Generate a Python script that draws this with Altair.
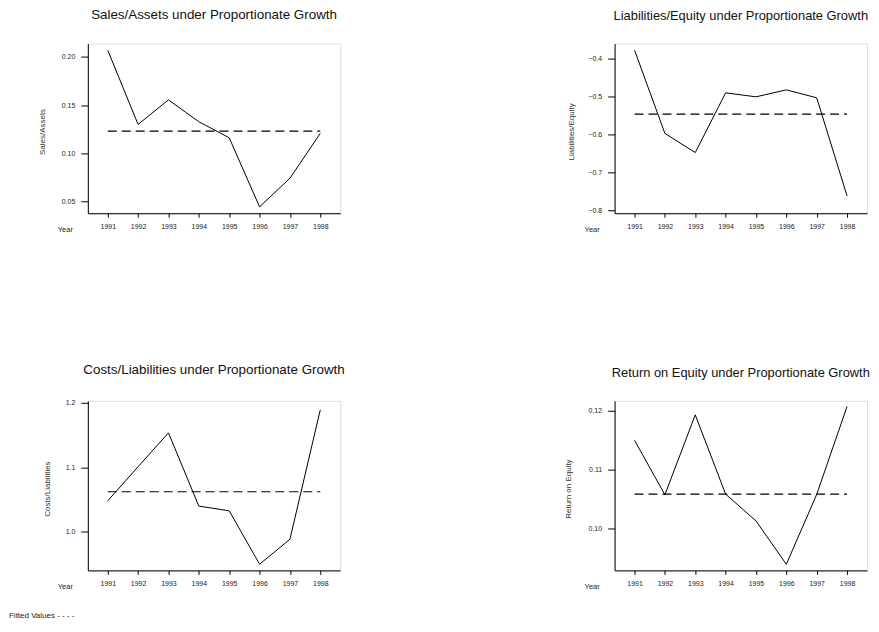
import altair as alt
import pandas as pd

years = [1991, 1992, 1993, 1994, 1995, 1996, 1997, 1998]

sales_assets = [0.2069, 0.1300, 0.1555, 0.1328, 0.1162, 0.0445, 0.0742, 0.1207]
sales_assets_fit = 0.1231

liab_equity = [-0.377, -0.5965, -0.647, -0.4895, -0.500, -0.4816, -0.5026, -0.7614]
liab_equity_fit = -0.5456

costs_liab = [1.048, 1.1008, 1.153, 1.0398, 1.0326, 0.950, 0.9886, 1.1886]
costs_liab_fit = 1.062

roe = [0.11496, 0.10572, 0.11926, 0.10583, 0.10130, 0.09394, 0.10578, 0.12068]
roe_fit = 0.10583

titles = [
    "Sales/Assets under Proportionate Growth",
    "Liabilities/Equity under Proportionate Growth",
    "Costs/Liabilities under Proportionate Growth",
    "Return on Equity under Proportionate Growth",
]
ytitles = ["Sales/Assets", "Liabilities/Equity", "Costs/Liabilities", "Return on Equity"]
legend_label = "Fitted Values - - - -"

FONT = "Liberation Sans"
W, H = 253, 170


def panel(title, ytitle, values, fitted, ydomain, yticks, yfmt, ytx,
          tsize=13.4, legend=False):
    df = pd.DataFrame({"Year": years, "v": values, "fit": [fitted] * len(years)})
    xaxis = alt.Axis(
        values=years, format="d", title="Year", grid=False, labelOverlap=False,
        tickSize=4, labelPadding=5, labelFontSize=7, labelFont=FONT,
        labelColor="#222", tickColor="black", domainColor="black",
        titleFont=FONT, titleFontSize=7.5, titleFontWeight="normal",
        titleColor="#222", titleX=-23, titleY=18, titleAlign="center",
        titleBaseline="alphabetic", titleAnchor="start",
    )
    yaxis = alt.Axis(
        values=yticks, format=yfmt, title=ytitle, grid=False, labelOverlap=False,
        tickSize=7, labelPadding=6, labelFontSize=7, labelFont=FONT,
        labelColor="#222", tickColor="black", domainColor="black",
        titleFont=FONT, titleFontSize=8, titleFontWeight="normal",
        titleColor="#333", titleX=ytx, titleY=H / 2 + 3, titleAngle=270,
        titleAlign="center", titleBaseline="middle",
    )
    xscale = alt.Scale(domain=[1990.343, 1998.657], nice=False, zero=False)
    yscale = alt.Scale(domain=ydomain, nice=False, zero=False)
    base = alt.Chart(df)
    line = base.mark_line(color="black", strokeWidth=1).encode(
        x=alt.X("Year:Q", scale=xscale, axis=xaxis),
        y=alt.Y("v:Q", scale=yscale, axis=yaxis),
    )
    fit = base.mark_line(color="black", strokeWidth=1.2, strokeDash=[9, 5]).encode(
        x=alt.X("Year:Q", scale=xscale, axis=xaxis),
        y=alt.Y("fit:Q", scale=yscale, axis=yaxis),
    )
    layers = [line, fit]
    if legend:
        leg = alt.Chart(pd.DataFrame({"t": [legend_label]})).mark_text(
            align="left", baseline="middle", font=FONT, fontSize=8, color="#222"
        ).encode(text="t:N", x=alt.value(-79), y=alt.value(216))
        layers.append(leg)
    return alt.layer(*layers).properties(
        width=W, height=H,
        title=alt.TitleParams(
            title, font=FONT, fontSize=tsize, fontWeight="normal", color="#111",
            anchor="middle", frame="group", baseline="alphabetic", offset=11,
        ),
    )


p1 = panel(titles[0], ytitles[0], sales_assets, sales_assets_fit,
           [0.0379, 0.2138], [0.05, 0.10, 0.15, 0.20], ".2f", -45)
p2 = panel(titles[1], ytitles[1], liab_equity, liab_equity_fit,
           [-0.807, -0.3597], [-0.8, -0.7, -0.6, -0.5, -0.4], ".1f", -43, tsize=12.9)
p3 = panel(titles[2], ytitles[2], costs_liab, costs_liab_fit,
           [0.9405, 1.2025], [1.0, 1.1, 1.2], ".1f", -40, legend=True)
p4 = panel(titles[3], ytitles[3], roe, roe_fit,
           [0.09291, 0.12164], [0.10, 0.11, 0.12], ".2f", -46, tsize=12.9)

chart = alt.concat(
    p1, p2, p3, p4, columns=2, spacing={"row": 188, "column": 275}, bounds="flush"
).properties(
    padding={"left": 0, "top": -1, "right": 0, "bottom": -1}
).configure_view(stroke="black", strokeWidth=1).configure_axis(
    labelOverlap=False
).configure(background="white")

chart.save("out.html", embed_options={"renderer": "svg", "actions": False})
